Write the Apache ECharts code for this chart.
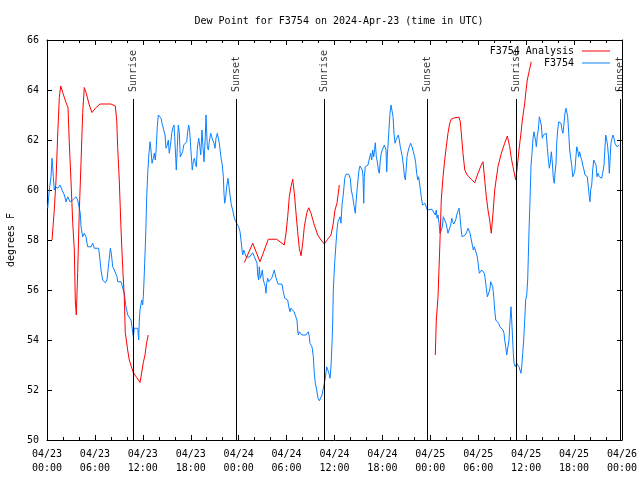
<!DOCTYPE html>
<html>
<head>
<meta charset="utf-8">
<script src="https://cdn.jsdelivr.net/npm/echarts@6/dist/echarts.min.js"></script>
<style>html,body{margin:0;padding:0;background:#fff;}#c{width:640px;height:480px;}</style>
</head>
<body>
<div id="c"></div>
<script>
// ---- data (hours after 2024-04-23 00:00 UTC, dew point in F) ----
const startDate = Date.UTC(2024, 3, 23);
const titleText = 'Dew Point for F3754 on 2024-Apr-23 (time in UTC)';
const seriesNames = ['F3754 Analysis', 'F3754'];
const yTicks = { min: 50, max: 66, step: 2 };

// analysis (null = gap)
const analysisPoints = [
[0.63,58.0],[0.91,59.2],[1.13,60.4],[1.34,62.2],[1.54,63.7],[1.72,64.16],[1.97,63.9],[2.38,63.5],[2.63,63.3],[2.79,61.9],[3.0,60.4],[3.22,58.7],[3.42,57.6],[3.54,55.6],[3.67,55.0],[3.84,56.7],[4.04,59.1],[4.26,61.1],[4.47,63.1],[4.67,64.1],[4.88,63.9],[5.3,63.4],[5.63,63.1],[6.14,63.3],[6.64,63.44],[8.01,63.44],[8.55,63.36],[8.73,62.8],[8.85,61.7],[9.05,60.4],[9.27,58.4],[9.48,56.9],[9.68,55.7],[9.8,54.3],[10.1,53.6],[10.3,53.2],[10.8,52.7],[11.23,52.5],[11.65,52.3],[11.86,52.7],[12.06,53.1],[12.27,53.4],[12.48,53.9],[12.68,54.2],
[18,null],
[24.71,57.1],[25.76,57.87],[26.67,57.13],[27.71,58.03],[28.76,58.03],[29.71,57.8],[29.93,58.28],[30.14,58.93],[30.34,59.73],[30.55,60.13],[30.77,60.43],[30.97,59.87],[31.18,59.08],[31.39,58.33],[31.59,57.67],[31.81,57.37],[32.02,57.87],[32.22,58.53],[32.52,59.07],[32.77,59.29],[33.06,59.07],[33.47,58.6],[33.9,58.2],[34.31,58.0],[34.72,57.84],[35.15,58.03],[35.56,58.2],[35.85,58.67],[36.06,59.2],[36.31,59.47],[36.6,60.2],
[42,null],
[48.62,53.4],[48.75,54.8],[48.96,55.73],[49.17,57.6],[49.37,59.6],[49.59,60.53],[49.8,61.2],[50.0,61.73],[50.21,62.27],[50.43,62.67],[50.63,62.84],[51.05,62.89],[51.59,62.91],[51.75,62.73],[51.88,62.27],[52.09,61.47],[52.31,60.8],[52.63,60.6],[53.13,60.43],[53.56,60.29],[53.97,60.67],[54.38,61.0],[54.6,61.13],[54.81,60.4],[55.01,59.73],[55.22,59.2],[55.43,58.8],[55.63,58.27],[55.85,59.07],[56.06,60.0],[56.47,60.93],[56.89,61.47],[57.31,61.87],[57.64,62.16],[57.94,61.73],[58.14,61.27],[58.35,60.93],[58.56,60.6],[58.69,60.4],[58.89,60.93],[59.1,61.6],[59.35,62.27],[59.52,62.8],[59.82,63.47],[59.94,63.87],[60.14,64.4],[60.36,64.73],[60.64,65.13]
];

// station observations
const obsPoints = [
[0.09,59.27],[0.29,60.0],[0.5,60.53],[0.63,61.27],[0.71,60.93],[0.79,60.53],[0.91,60.0],[1.04,60.13],[1.34,60.07],[1.63,60.2],[1.88,60.0],[2.17,59.8],[2.38,59.53],[2.59,59.73],[2.88,59.53],[3.22,59.6],[3.42,59.53],[3.63,59.73],[3.84,59.6],[4.04,59.53],[4.17,59.07],[4.26,58.53],[4.47,58.13],[4.67,58.27],[4.88,58.13],[5.09,57.73],[5.3,57.67],[5.51,57.73],[5.72,57.87],[5.92,57.67],[6.14,57.67],[6.47,57.67],[6.64,57.2],[6.76,56.8],[6.97,56.4],[7.3,56.29],[7.51,56.4],[7.73,57.07],[7.93,57.67],[8.05,57.47],[8.23,56.93],[8.43,56.8],[8.64,56.87],[8.77,56.53],[8.85,56.33],[9.27,56.33],[9.39,56.2],[9.55,56.0],[9.68,55.87],[9.89,55.33],[10.11,55.0],[10.31,54.93],[10.52,54.8],[10.64,54.53],[10.81,54.13],[10.93,54.47],[11.14,54.4],[11.36,54.47],[11.48,54.0],[11.56,54.8],[11.65,55.2],[11.86,55.6],[11.98,55.4],[12.06,55.73],[12.15,56.4],[12.23,57.07],[12.31,57.73],[12.4,58.67],[12.48,59.67],[12.61,60.67],[12.77,61.47],[12.9,61.93],[13.02,61.6],[13.15,61.07],[13.31,61.27],[13.44,61.47],[13.56,61.2],[13.65,61.53],[13.81,62.53],[13.94,63.0],[14.15,63.0],[14.28,62.87],[14.4,62.67],[14.56,62.47],[14.78,62.2],[14.9,61.67],[15.06,61.8],[15.19,62.0],[15.31,61.47],[15.44,61.73],[15.62,62.27],[15.74,62.47],[15.9,62.6],[15.99,62.13],[16.12,61.27],[16.19,60.8],[16.32,61.73],[16.44,62.6],[16.57,62.27],[16.69,61.33],[16.82,61.4],[16.99,61.53],[17.12,61.8],[17.28,61.87],[17.49,61.93],[17.62,62.33],[17.74,62.6],[17.87,62.33],[17.99,61.73],[18.12,61.13],[18.19,60.8],[18.32,61.13],[18.45,61.27],[18.57,61.07],[18.7,60.93],[18.82,61.67],[19.0,62.07],[19.12,61.8],[19.25,61.4],[19.41,62.4],[19.53,61.73],[19.66,61.13],[19.82,62.13],[19.91,63.0],[20.07,61.73],[20.2,61.6],[20.32,61.93],[20.5,62.27],[20.62,62.13],[20.75,62.0],[20.91,61.87],[21.04,61.67],[21.16,62.07],[21.33,62.27],[21.5,62.27],[21.58,61.87],[21.7,61.53],[21.83,61.2],[21.95,61.0],[22.08,60.53],[22.16,59.87],[22.25,59.47],[22.38,59.73],[22.5,60.13],[22.66,60.47],[22.79,60.13],[22.92,59.8],[23.08,59.4],[23.25,59.2],[23.42,58.93],[23.58,58.77],[23.75,58.67],[24.0,58.53],[24.17,58.33],[24.29,58.0],[24.42,57.6],[24.51,57.4],[24.63,57.6],[24.79,57.47],[24.92,57.33],[25.13,57.4],[25.33,57.31],[25.54,57.4],[25.76,57.49],[25.96,57.33],[26.17,57.27],[26.3,57.07],[26.38,56.6],[26.51,56.4],[26.58,56.93],[26.71,56.47],[26.84,56.6],[26.96,56.8],[27.09,56.4],[27.21,56.27],[27.34,56.13],[27.42,55.87],[27.51,56.27],[27.64,56.47],[27.76,56.33],[27.92,56.4],[28.14,56.47],[28.34,56.67],[28.46,56.8],[28.59,56.6],[28.76,56.4],[28.93,56.24],[29.43,56.23],[29.59,55.93],[29.77,55.67],[29.93,55.63],[30.14,55.6],[30.27,55.33],[30.43,55.13],[30.55,55.27],[30.77,55.27],[30.93,55.13],[31.18,55.13],[31.3,54.8],[31.39,54.4],[31.47,54.2],[31.59,54.33],[31.77,54.27],[31.93,54.2],[32.43,54.2],[32.56,54.27],[32.72,54.33],[32.85,54.13],[32.93,53.87],[33.18,53.73],[33.35,53.33],[33.47,52.67],[33.6,52.27],[33.77,52.0],[33.94,51.67],[34.1,51.57],[34.31,51.57],[34.44,51.8],[34.6,52.07],[34.77,52.13],[34.85,52.47],[35.02,52.93],[35.19,52.93],[35.31,52.67],[35.44,52.47],[35.56,52.93],[35.69,53.87],[35.78,54.8],[35.85,56.0],[36.03,57.13],[36.19,57.87],[36.31,58.4],[36.44,58.73],[36.56,58.8],[36.69,58.93],[36.81,58.67],[36.94,59.4],[37.07,59.73],[37.19,60.13],[37.28,60.47],[37.44,60.63],[37.78,60.63],[37.98,60.47],[38.1,60.0],[38.28,59.73],[38.4,59.47],[38.53,59.2],[38.61,59.07],[38.69,59.47],[38.82,60.0],[38.94,60.4],[39.07,60.8],[39.19,60.96],[39.36,60.96],[39.48,60.8],[39.57,60.53],[39.66,59.47],[39.73,60.53],[39.86,60.93],[40.07,60.93],[40.19,61.0],[40.28,61.13],[40.41,61.2],[40.53,61.47],[40.66,61.2],[40.78,61.6],[40.91,61.33],[41.03,61.67],[41.11,61.89],[41.24,61.33],[41.36,61.13],[41.49,60.8],[41.61,60.67],[41.74,61.2],[41.86,61.47],[41.99,61.6],[42.11,61.53],[42.24,61.8],[42.36,61.87],[42.45,61.6],[42.54,60.73],[42.61,61.33],[42.7,61.8],[42.83,62.47],[42.95,63.07],[43.08,63.4],[43.2,63.36],[43.33,62.93],[43.45,62.27],[43.58,61.87],[43.7,62.0],[43.86,62.07],[43.99,62.2],[44.11,62.0],[44.24,61.73],[44.37,61.53],[44.49,61.33],[44.62,61.0],[44.74,60.6],[44.87,60.4],[44.95,60.73],[45.08,61.33],[45.2,61.53],[45.37,61.73],[45.54,61.87],[45.71,61.73],[45.87,61.53],[46.04,61.33],[46.17,61.07],[46.29,60.67],[46.42,60.4],[46.54,60.53],[46.67,60.47],[46.79,59.93],[46.92,59.6],[47.04,59.4],[47.21,59.33],[47.33,59.47],[47.5,59.4],[47.62,59.2],[47.8,59.23],[48.21,59.23],[48.46,59.2],[48.62,59.0],[48.75,59.2],[48.84,58.87],[48.96,59.0],[49.09,58.67],[49.21,58.27],[49.37,58.4],[49.5,58.53],[49.62,58.93],[49.8,58.87],[49.96,58.67],[50.09,58.47],[50.21,58.27],[50.43,58.27],[50.55,58.6],[50.68,58.87],[50.8,58.73],[50.93,58.64],[51.05,58.67],[51.18,58.8],[51.3,59.0],[51.43,59.13],[51.59,59.27],[51.72,58.93],[51.84,58.47],[51.97,58.13],[52.22,58.13],[52.38,58.2],[52.56,58.33],[52.72,58.47],[52.85,58.53],[52.97,58.27],[53.13,58.0],[53.26,57.8],[53.38,57.6],[53.51,57.73],[53.63,57.8],[53.76,57.67],[53.88,57.33],[54.01,57.0],[54.13,56.67],[54.31,56.67],[54.43,56.8],[54.6,56.73],[54.76,56.67],[54.89,56.4],[55.01,56.07],[55.14,55.73],[55.31,55.67],[55.44,56.0],[55.56,56.33],[55.69,56.33],[55.81,56.13],[55.94,55.73],[56.06,55.2],[56.19,54.8],[56.39,54.73],[56.56,54.67],[56.72,54.53],[56.89,54.47],[57.1,54.4],[57.23,54.27],[57.31,54.0],[57.44,53.73],[57.56,53.4],[57.73,53.47],[57.85,54.0],[57.94,54.53],[58.01,54.87],[58.1,55.33],[58.19,54.8],[58.31,54.0],[58.39,53.47],[58.48,53.07],[58.64,52.93],[58.81,53.07],[58.98,53.07],[59.1,52.93],[59.23,52.87],[59.35,52.67],[59.44,52.93],[59.57,53.47],[59.69,54.0],[59.82,54.8],[59.94,55.6],[60.07,55.8],[60.19,56.4],[60.27,57.33],[60.36,58.4],[60.48,59.6],[60.61,61.0],[60.73,61.47],[60.86,62.07],[60.98,62.33],[61.11,62.4],[61.2,61.93],[61.27,61.73],[61.4,62.2],[61.52,62.4],[61.65,62.93],[61.77,63.0],[61.9,62.6],[62.02,62.07],[62.15,62.2],[62.27,62.27],[62.4,62.13],[62.52,62.27],[62.65,61.67],[62.77,61.27],[62.9,60.87],[63.02,61.07],[63.15,61.53],[63.27,61.13],[63.4,60.47],[63.52,60.27],[63.61,60.67],[63.74,61.07],[63.82,61.87],[63.95,62.4],[64.07,62.73],[64.24,62.8],[64.36,62.67],[64.49,62.4],[64.61,62.27],[64.74,62.67],[64.86,63.07],[64.99,63.27],[65.11,63.33],[65.2,62.93],[65.33,62.27],[65.45,61.6],[65.58,61.27],[65.7,61.0],[65.83,60.53],[65.95,60.47],[66.08,60.73],[66.2,61.2],[66.33,61.73],[66.45,61.6],[66.58,61.33],[66.7,61.53],[66.83,61.33],[66.96,61.2],[67.08,61.0],[67.24,60.8],[67.37,60.6],[67.49,60.67],[67.66,60.53],[67.78,60.13],[67.91,59.73],[67.99,59.53],[68.08,60.0],[68.21,60.2],[68.33,60.8],[68.46,61.2],[68.62,61.27],[68.75,61.0],[68.87,60.53],[69.0,60.67],[69.16,60.53],[69.33,60.6],[69.46,60.47],[69.58,60.67],[69.75,61.0],[69.87,61.73],[69.96,62.2],[70.09,62.0],[70.21,61.73],[70.34,61.2],[70.41,60.67],[70.5,61.2],[70.62,61.87],[70.75,62.07],[70.87,62.2],[71.0,62.07],[71.12,61.87],[71.25,61.8],[71.37,61.73],[71.54,61.8],[71.66,61.8]
];

// sun events
const eventNames = ['Sunrise', 'Sunset', 'Sunrise', 'Sunset', 'Sunrise', 'Sunset'];
const eventHours = [10.81, 23.67, 34.73, 47.6, 58.77, 71.75];
const eventLineTop = 63.64;   // top of the vertical marker lines (F)
const eventLabelBase = 63.92; // where the rotated labels start (F)

// ---- chart ----
const HOUR = 3600000;
const toTime = h => startDate + h * HOUR;
const pad = n => (n < 10 ? '0' : '') + n;
const FONT = '"DejaVu Sans Mono", "Liberation Mono", monospace';

const analysisData = analysisPoints.map(p => [toTime(p[0]), p[1] === null ? '-' : p[1]]);
const obsData = obsPoints.map(p => [toTime(p[0]), p[1]]);
const eventLabelData = eventNames.map((n, i) => ({ name: n, value: [toTime(eventHours[i]), eventLabelBase] }));
const eventLines = eventHours.map(h => [{ coord: [toTime(h), yTicks.min] }, { coord: [toTime(h), eventLineTop] }]);

const xCommon = {
  type: 'value', min: startDate, max: startDate + 72 * HOUR, interval: 6 * HOUR,
  axisLine: { show: true, onZero: false, lineStyle: { color: '#000', width: 1 } },
  axisTick: { show: true, inside: true, length: 5, lineStyle: { color: '#000' } },
  minorTick: { show: true, splitNumber: 3, length: 3, lineStyle: { color: '#000' } },
  splitLine: { show: false }
};
const yCommon = {
  type: 'value', min: yTicks.min, max: yTicks.max, interval: yTicks.step,
  axisLine: { show: true, onZero: false, lineStyle: { color: '#000', width: 1 } },
  axisTick: { show: true, inside: true, length: 5, lineStyle: { color: '#000' } },
  splitLine: { show: false }
};
const legendCommon = {
  orient: 'vertical', align: 'right', right: 30, itemWidth: 28, itemHeight: 1, icon: 'rect',
  textStyle: { fontFamily: FONT, fontSize: 10, color: '#000', padding: [0, 3, 0, 0] }
};

const chart = echarts.init(document.getElementById('c'), null, { renderer: 'canvas' });
chart.setOption({
  animation: false,
  backgroundColor: '#fff',
  textStyle: { fontFamily: FONT },
  title: {
    text: titleText, left: 334, top: 11, textAlign: 'center',
    textStyle: { fontFamily: FONT, fontSize: 10, fontWeight: 'normal', color: '#000' }
  },
  legend: [
    Object.assign({}, legendCommon, { data: [seriesNames[0]], top: 41, right: 25 }),
    Object.assign({}, legendCommon, { data: [seriesNames[1]], top: 53, right: 25 })
  ],
  grid: { left: 47, right: 18, top: 40, bottom: 40, containLabel: false, outerBoundsMode: 'none' },
  xAxis: [
    Object.assign({}, xCommon, {
      position: 'bottom',
      axisLabel: {
        show: true, margin: 7, color: '#000', fontFamily: FONT, fontSize: 10, lineHeight: 14,
        formatter: v => { const d = new Date(v); return pad(d.getUTCMonth() + 1) + '/' + pad(d.getUTCDate()) + '\n' + pad(d.getUTCHours()) + ':' + pad(d.getUTCMinutes()); }
      }
    }),
    Object.assign({}, xCommon, { position: 'top', axisLabel: { show: false } })
  ],
  yAxis: [
    Object.assign({}, yCommon, {
      position: 'left', name: 'degrees F', nameLocation: 'middle', nameGap: 31, nameRotate: 90,
      nameTextStyle: { fontFamily: FONT, fontSize: 10, color: '#000' },
      axisLabel: { show: true, margin: 8, color: '#000', fontFamily: FONT, fontSize: 10 }
    }),
    Object.assign({}, yCommon, { position: 'right', axisLabel: { show: false } })
  ],
  series: [
    { name: seriesNames[0], type: 'line', data: analysisData, symbol: 'none', connectNulls: false,
      lineStyle: { color: '#ff0000', width: 1 }, itemStyle: { color: '#ff0000' }, z: 3 },
    { name: seriesNames[1], type: 'line', data: obsData, symbol: 'none',
      lineStyle: { color: '#0a80ff', width: 1 }, itemStyle: { color: '#0a80ff' }, z: 2 },
    { name: 'events', type: 'scatter', data: eventLabelData, symbolSize: 0, silent: true, z: 4,
      label: { show: true, formatter: '{b}', position: 'inside', rotate: 90, align: 'left', verticalAlign: 'middle',
        color: '#000', fontFamily: FONT, fontSize: 10 },
      markLine: { silent: true, symbol: ['none', 'none'], animation: false, data: eventLines,
        lineStyle: { color: '#000', width: 1, type: 'solid' }, label: { show: false }, emphasis: { disabled: true } } }
  ]
});
</script>
</body>
</html>
